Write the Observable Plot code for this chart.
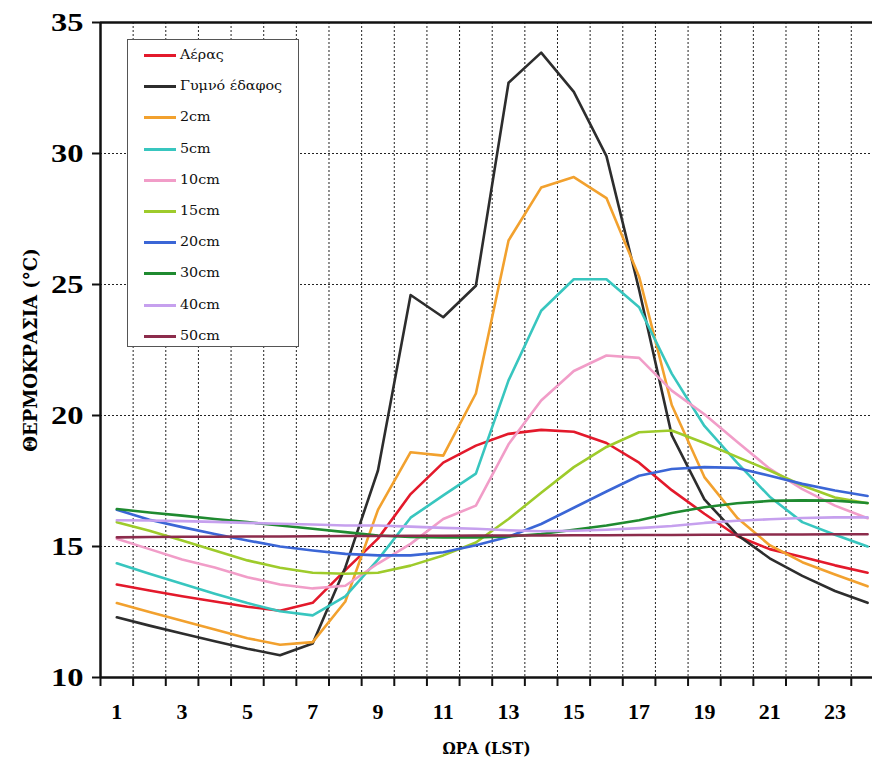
<!DOCTYPE html>
<html>
<head>
<meta charset="utf-8">
<script src="https://cdn.jsdelivr.net/npm/d3@7"></script>
<script src="https://cdn.jsdelivr.net/npm/@observablehq/plot@0.6"></script>
<style>
  html, body { margin: 0; padding: 0; background: #fff; overflow: hidden; }
  #wrap { position: relative; width: 872px; height: 760px; }
  #legend { position: absolute; left: 127px; top: 39px; width: 172px; height: 308px;
            border: 1.5px solid #555; background: #fff; box-sizing: border-box;
            font-family: "DejaVu Serif", serif; font-size: 13px; color: #111; }
  .item { position: absolute; left: 0; height: 20px; width: 100%; }
  .swatch { position: absolute; left: 16px; top: 8px; width: 32px; height: 3px; }
  .lab { position: absolute; left: 52px; top: 1px; white-space: nowrap; transform: scaleX(1.1); transform-origin: left center; }
</style>
</head>
<body>
<div id="wrap"><div id="legend"></div></div>
<script>
// ---- data ----
const hours = [1,2,3,4,5,6,7,8,9,10,11,12,13,14,15,16,17,18,19,20,21,22,23,24];
const seriesNames = ["Αέρας","Γυμνό έδαφος","2cm","5cm","10cm","15cm","20cm","30cm","40cm","50cm"];
const seriesColors = ["#e3192b","#2d2d2d","#f2a12e","#38c6bf","#f19dc8","#9ecb2b","#3b66d6","#1f8a30","#c6a0ee","#8c2c4c"];

const airTemp   = [13.55,13.32,13.1,12.9,12.7,12.55,12.85,14.1,15.3,17.0,18.2,18.85,19.3,19.45,19.38,18.95,18.2,17.15,16.25,15.4,14.9,14.6,14.28,14.0];
const bareSoil  = [12.3,11.98,11.68,11.38,11.1,10.85,11.3,14.2,17.9,24.6,23.75,24.95,32.7,33.85,32.35,29.9,24.8,19.25,16.8,15.45,14.55,13.88,13.3,12.85];
const depth2    = [12.84,12.5,12.17,11.83,11.5,11.25,11.35,12.9,16.4,18.6,18.47,20.84,26.68,28.7,29.1,28.3,25.3,20.4,17.65,16.1,15.05,14.4,13.93,13.48];
const depth5    = [14.36,13.96,13.58,13.2,12.84,12.53,12.37,13.1,14.5,16.1,16.95,17.78,21.34,24.0,25.2,25.2,24.13,21.6,19.6,18.2,16.9,15.93,15.45,15.0];
const depth10   = [15.3,14.9,14.5,14.2,13.83,13.55,13.4,13.5,14.35,15.1,16.05,16.56,18.9,20.57,21.7,22.29,22.2,20.95,20.05,19.0,17.97,17.19,16.56,16.08];
const depth15   = [15.93,15.6,15.23,14.85,14.47,14.19,14.0,13.96,14.0,14.27,14.66,15.15,16.05,17.05,18.03,18.8,19.36,19.43,18.95,18.42,17.9,17.33,16.87,16.65];
const depth20   = [16.4,16.02,15.74,15.48,15.23,15.0,14.85,14.72,14.66,14.66,14.78,15.05,15.37,15.86,16.48,17.1,17.7,17.96,18.03,18.0,17.7,17.39,17.14,16.93];
const depth30   = [16.43,16.3,16.18,16.05,15.93,15.8,15.68,15.55,15.42,15.36,15.35,15.35,15.38,15.48,15.64,15.8,16.0,16.28,16.5,16.65,16.74,16.76,16.75,16.66];
const depth40   = [16.0,15.99,15.97,15.94,15.9,15.87,15.84,15.8,15.8,15.76,15.71,15.68,15.62,15.58,15.6,15.64,15.7,15.78,15.9,15.98,16.04,16.09,16.11,16.11];
const depth50   = [15.35,15.36,15.37,15.37,15.38,15.38,15.39,15.4,15.4,15.41,15.41,15.42,15.42,15.42,15.43,15.43,15.44,15.44,15.45,15.45,15.46,15.46,15.47,15.47];

const seriesValues = [airTemp,bareSoil,depth2,depth5,depth10,depth15,depth20,depth30,depth40,depth50];

const xTickLabels = [1,3,5,7,9,11,13,15,17,19,21,23];
const xTickMarks  = [0.5,1.5,2.5,3.5,4.5,5.5,6.5,7.5,8.5,9.5,10.5,11.5,12.5,13.5,14.5,15.5,16.5,17.5,18.5,19.5,20.5,21.5,22.5,23.5];
const xGrid       = [1.5,2.5,3.5,4.5,5.5,6.5,7.5,8.5,9.5,10.5,11.5,12.5,13.5,14.5,15.5,16.5,17.5,18.5,19.5,20.5,21.5,22.5,23.5];
const yTicks      = [10,15,20,25,30,35];
const yGrid       = [15,20,25,30];
const yTop        = [35];
const yBottom     = [10];
const xLeft       = [0.5];
const xTitle = "ΩΡΑ (LST)";
const yTitle = "ΘΕΡΜΟΚΡΑΣΙΑ (°C)";

// ---- table ----
const rows = seriesNames.flatMap((s, i) => hours.map((h, j) => ({series: s, hour: h, value: seriesValues[i][j]})));

const FONT = "'Liberation Serif', 'DejaVu Serif', serif";
const GREEK_FONT = "'DejaVu Serif', serif";

const chart = Plot.plot({
  width: 872,
  height: 760,
  marginLeft: 100,
  marginRight: 0,
  marginTop: 22,
  marginBottom: 83,
  style: {fontFamily: FONT, background: "transparent", color: "#000", overflow: "visible"},
  x: {domain: [0.5, 24.15]},
  y: {domain: [10, 35]},
  color: {domain: seriesNames, range: seriesColors},
  marks: [
    Plot.ruleX(xGrid, {stroke: "#222", strokeWidth: 1, strokeDasharray: "2,2"}),
    Plot.ruleY(yGrid, {stroke: "#222", strokeWidth: 1, strokeDasharray: "2,2"}),
    Plot.line(rows, {x: "hour", y: "value", z: "series", stroke: "series", strokeWidth: 2.6, strokeLinejoin: "round"}),
    Plot.ruleY(yTop, {stroke: "#111", strokeWidth: 2.5}),
    Plot.ruleY(yBottom, {stroke: "#111", strokeWidth: 2.5}),
    Plot.ruleX(xLeft, {stroke: "#111", strokeWidth: 2.5}),
    Plot.axisX(xTickMarks, {tickSize: 9, strokeWidth: 2, stroke: "#111", tickFormat: () => "", label: null}),
    Plot.axisX(xTickLabels, {tickSize: 0, tickPadding: 26, fontSize: 22, fontWeight: "bold",
      label: xTitle, labelAnchor: "center", labelOffset: 76, labelArrow: "none"}),
    Plot.axisY(yTicks, {tickSize: 8, tickPadding: 9, strokeWidth: 2, stroke: "#111", fontSize: 26, fontWeight: "bold",
      label: yTitle, labelAnchor: "center", labelOffset: 76, labelArrow: "none"})
  ]
});

document.getElementById("wrap").prepend(chart);

// post-styling
const svg = d3.select(chart);
svg.selectAll("text").attr("font-family", FONT);
svg.selectAll('g[aria-label="y-axis tick label"] text').each(function() {
  const t = this.getAttribute("transform") || "";
  this.setAttribute("transform", t + " scale(1.25,1)");
});
svg.selectAll('g[aria-label="x-axis label"], g[aria-label="x-axis label"] text')
  .attr("font-family", GREEK_FONT).attr("font-size", 17).attr("font-weight", "bold");
svg.selectAll('g[aria-label="x-axis label"] text').each(function() {
  const t = this.getAttribute("transform") || "";
  this.setAttribute("transform", t + " scale(0.88,1)");
});
svg.selectAll('g[aria-label="y-axis label"], g[aria-label="y-axis label"] text')
  .attr("font-family", GREEK_FONT).attr("font-size", 18).attr("font-weight", "bold");

// legend
const legend = document.getElementById("legend");
seriesNames.forEach((name, i) => {
  const item = document.createElement("div");
  item.className = "item";
  item.style.top = (6 + i * 31.2) + "px";
  const sw = document.createElement("div");
  sw.className = "swatch";
  sw.style.background = seriesColors[i];
  const lab = document.createElement("span");
  lab.className = "lab";
  lab.textContent = name;
  item.appendChild(sw);
  item.appendChild(lab);
  legend.appendChild(item);
});
</script>
</body>
</html>
